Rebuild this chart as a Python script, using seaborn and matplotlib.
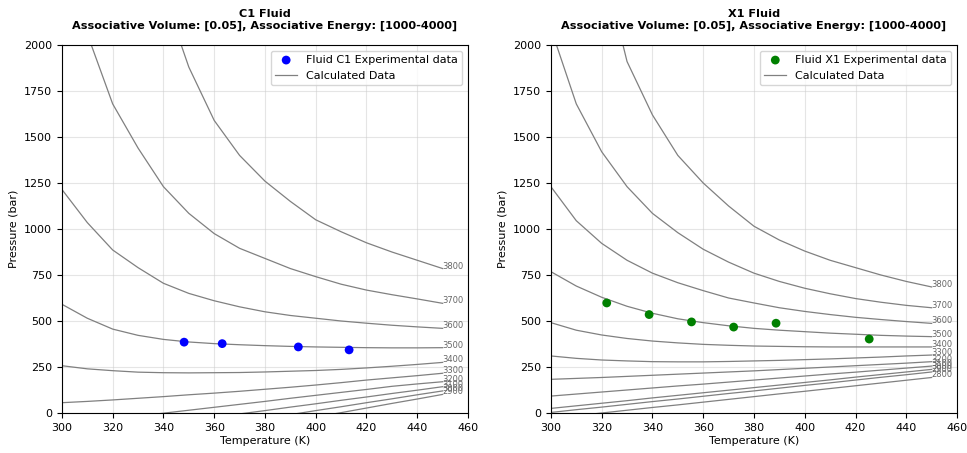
import numpy as np
import pandas as pd
import matplotlib
matplotlib.use("Agg")
import matplotlib.pyplot as plt
import seaborn as sns

# Temperature grid of the calculated isolines (K)
temperature = [300, 310, 320, 330, 340, 350, 360, 370, 380, 390, 400, 410, 420, 430, 440, 450]

# Calculated pressure (bar) for each associative energy, fluid C1
c1_energies = [3800, 3700, 3600, 3500, 3400, 3300, 3200, 3100, 3000, 2900]
c1_p3800 = [4300, 3600, 3000, 2600, 2280, 1880, 1590, 1400, 1260, 1150, 1050, 985, 925, 875, 830, 785]
c1_p3700 = [2600, 2060, 1680, 1440, 1230, 1085, 975, 895, 840, 785, 741, 700, 668, 643, 620, 596]
c1_p3600 = [1215, 1035, 886, 790, 705, 650, 610, 577, 550, 530, 515, 500, 488, 477, 468, 460]
c1_p3500 = [591, 515, 456, 422, 400, 386, 377, 371, 366, 362, 359, 357, 355, 354, 354, 355]
c1_p3400 = [257, 240, 230, 222, 219, 218, 219, 220, 223, 227, 231, 237, 245, 254, 264, 275]
c1_p3300 = [56, 63, 71, 80, 89, 99, 108, 118, 129, 140, 152, 165, 179, 191, 203, 216]
c1_p3200 = [-62, -48, -33, -17, -1, 15, 31, 47, 63, 80, 96, 112, 128, 145, 158, 170]
c1_p3100 = [-135, -116, -98, -79, -61, -42, -24, -5, 13, 32, 50, 69, 87, 106, 124, 143]
c1_p3000 = [-201, -180, -158, -137, -115, -94, -73, -51, -30, -9, 13, 34, 56, 77, 99, 120]
c1_p2900 = [-268, -244, -219, -194, -170, -145, -120, -96, -71, -47, -22, 2, 27, 52, 76, 101]

# Calculated pressure (bar) for each associative energy, fluid X1
x1_energies = [3800, 3700, 3600, 3500, 3400, 3300, 3200, 3100, 3000, 2900, 2800]
x1_p3800 = [3700, 3100, 2470, 1910, 1620, 1400, 1250, 1125, 1015, 940, 880, 830, 790, 750, 715, 685]
x1_p3700 = [2090, 1680, 1420, 1230, 1085, 980, 890, 820, 760, 715, 678, 648, 622, 602, 585, 572]
x1_p3600 = [1230, 1045, 922, 830, 760, 708, 665, 625, 598, 572, 552, 535, 520, 508, 497, 487]
x1_p3500 = [768, 690, 629, 580, 542, 512, 491, 474, 460, 450, 442, 434, 428, 422, 418, 415]
x1_p3400 = [491, 450, 424, 405, 391, 381, 373, 368, 364, 362, 360, 359, 359, 359, 359, 359]
x1_p3300 = [310, 297, 288, 283, 279, 278, 278, 280, 283, 286, 290, 294, 299, 304, 310, 315]
x1_p3200 = [183, 188, 193, 199, 205, 211, 217, 223, 229, 236, 243, 250, 257, 264, 271, 279]
x1_p3100 = [92, 103, 114, 125, 136, 147, 157, 168, 179, 190, 201, 212, 222, 233, 244, 255]
x1_p3000 = [25, 39, 53, 67, 82, 96, 110, 124, 138, 152, 166, 180, 195, 209, 223, 237]
x1_p2900 = [3, 18, 32, 47, 62, 76, 91, 106, 120, 135, 150, 164, 179, 194, 208, 223]
x1_p2800 = [-30, -15, 0, 15, 30, 44, 59, 74, 89, 104, 118, 133, 148, 163, 178, 193]

# Experimental measurements
c1_exp_T = [348.15, 363.15, 393.15, 413.15]
c1_exp_P = [385, 377, 359, 343]
x1_exp_T = [322.0, 338.7, 355.4, 372.0, 388.7, 425.4]
x1_exp_P = [598, 535, 495, 467, 488, 402]


def long_table(energies, series):
    frames = []
    for e, p in zip(energies, series):
        frames.append(pd.DataFrame({"T": temperature, "P": p, "Energy": e}))
    return pd.concat(frames, ignore_index=True)


c1_calc = long_table(c1_energies, [c1_p3800, c1_p3700, c1_p3600, c1_p3500, c1_p3400,
                                   c1_p3300, c1_p3200, c1_p3100, c1_p3000, c1_p2900])
x1_calc = long_table(x1_energies, [x1_p3800, x1_p3700, x1_p3600, x1_p3500, x1_p3400,
                                   x1_p3300, x1_p3200, x1_p3100, x1_p3000, x1_p2900, x1_p2800])

plt.rcParams["font.family"] = ["DejaVu Sans"]
plt.rcParams["font.size"] = 8

fig, axes = plt.subplots(1, 2, figsize=(9.67, 4.53), dpi=100)
fig.subplots_adjust(left=0.064, right=0.9897, top=0.9007, bottom=0.0883, wspace=0.204)

panels = [
    (axes[0], "C1", c1_calc, c1_exp_T, c1_exp_P, "blue"),
    (axes[1], "X1", x1_calc, x1_exp_T, x1_exp_P, "green"),
]

for ax, name, calc, exp_T, exp_P, colour in panels:
    first = True
    for energy, grp in calc.groupby("Energy", sort=False):
        sns.lineplot(data=grp, x="T", y="P", ax=ax, color="gray", lw=0.9,
                     estimator=None, sort=False,
                     label="Calculated Data" if first else None, legend=False)
        first = False
        end = grp.iloc[-1]
        if 0 <= end["P"] <= 2000:
            ax.text(end["T"], end["P"], f"{int(energy)}", fontsize=6, color="#666666",
                    ha="left", va="baseline")
    sns.scatterplot(x=exp_T, y=exp_P, ax=ax, color=colour, s=40, edgecolor="none",
                    label=f"Fluid {name} Experimental data", legend=False, zorder=5)

    ax.set_xlim(300, 460)
    ax.set_ylim(0, 2000)
    ax.set_xticks(np.arange(300, 461, 20))
    ax.set_yticks(np.arange(0, 2001, 250))
    ax.grid(True, color="#cccccc", alpha=0.5, lw=0.8)
    ax.set_xlabel("Temperature (K)", labelpad=2)
    ax.set_ylabel("Pressure (bar)")
    ax.set_title(f"{name} Fluid\nAssociative Volume: [0.05], Associative Energy: [1000-4000]",
                 fontweight="bold", fontsize=8.1, pad=12)

    handles, labels = ax.get_legend_handles_labels()
    order = [labels.index(f"Fluid {name} Experimental data"), labels.index("Calculated Data")]
    ax.legend([handles[i] for i in order], [labels[i] for i in order],
              loc="upper right", fontsize=8)

fig.savefig("out.png", dpi=100)
